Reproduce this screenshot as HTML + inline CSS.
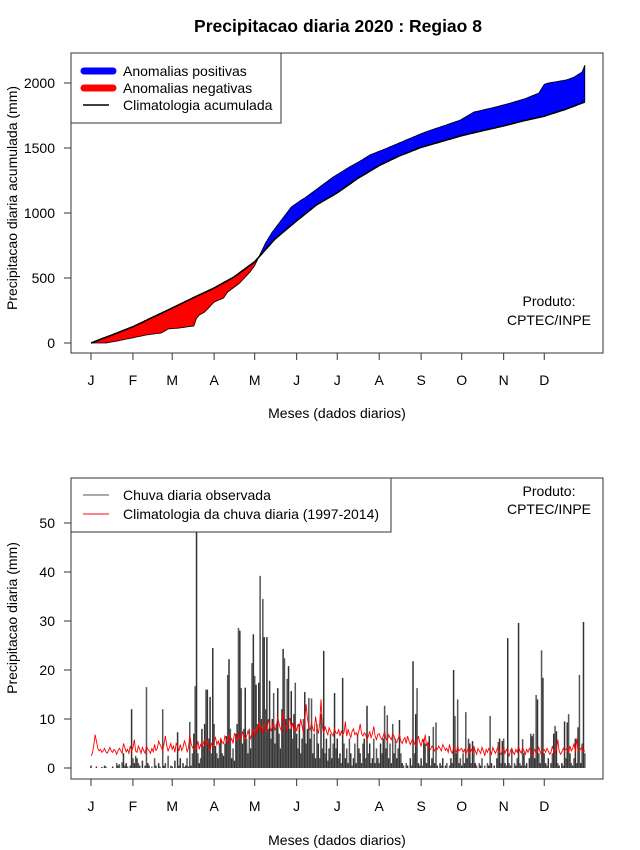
<!DOCTYPE html>
<html><head><meta charset="utf-8"><style>
html,body{margin:0;padding:0;background:#fff;}
svg{display:block;font-family:"Liberation Sans",Arial,sans-serif;}
</style></head><body>
<svg id="chart" width="640" height="850" viewBox="0 0 640 850">
<text x="338" y="32" text-anchor="middle" font-size="17.5" font-weight="bold">Precipitacao diaria 2020 : Regiao 8</text>
<g id="top"></g>
<g id="bot"></g>
</svg>
<script>
// ---- top panel data (accumulated) ----
const climDays = [1,16,32,46,61,76,92,107,122,137,153,168,183,198,214,229,245,260,275,290,306,321,336,351,366];
const climAcc  = [0,60,125,195,269,345,423,510,625,800,940,1065,1155,1265,1365,1440,1505,1550,1595,1632,1670,1710,1745,1795,1854];
const obsDays  = [1,12,20,31,42,53,58,66,77,79,81,85,92,99,102,111,118,122,125,130,135,142,149,155,160,170,180,192,200,207,220,234,248,260,274,284,298,311,322,332,336,339,352,358,364,366];
const obsAcc   = [0,0,15,38,62,77,108,115,131,190,215,238,315,346,392,462,540,595,662,769,854,950,1046,1090,1123,1200,1277,1354,1400,1446,1500,1562,1623,1665,1715,1777,1810,1846,1880,1923,1990,2000,2023,2045,2085,2138];
const topTicks = [0,500,1000,1500,2000];
const monthLabels = ["J","F","M","A","M","J","J","A","S","O","N","D"];
const monthStart = [1,32,61,92,122,153,183,214,245,275,306,336];
// ---- bottom panel data (daily) ----
const obsRain = [
0.5,0,0,0,0.3,0,0,0,0.2,0,0.5,0.3,0,0,0,0,0.3,0,0,1,0.5,0.8,0,1.2,3,0.5,1,0.3,0,0.5,12,
2,1,2.5,2,1,0.5,0,1.5,0,0.5,16.5,1,0.5,0,0.3,0,2,0.5,0,1,0.3,0,12,0.5,1,0,2.5,0,0.5,
0.3,0,1.5,0,7.3,0.5,2,0,1,0.2,0.5,2,0.3,9.4,0.5,3,7,16.7,58,3,1,2,8,4.5,9,16,16,6,14.5,3,24.5,
9,4.5,3,2,5,6,3,2.5,5,6.5,19,22.2,8,2,4,1.5,7,9,28.6,28,16.3,5,8,16.4,6,3,8,4,21.4,27.3,
18.8,17,9,17.4,39.2,10,34.5,26.7,12,26.7,8,17.8,6,10,15.3,5,9,16.3,7,4,12,24.3,22.4,10,18.2,20.8,8,15.7,6,11,17.4,
7,4,9,3,6,10,15.5,5,8,14.3,6,14.2,3,7,2,9,5,2,11,4,23.9,3,6,1.5,4,7,2,5,15.3,4,
6,2,3,1,18.4,5,2,4,1,6,3,0.5,2,5,1,7,4,3,1,5,6,2,12.7,3,5,1,2,6,1,4,2,
1,5,3,6,12.7,4,10.8,2,5,1,9,3,6,2,4,9.8,3,1,0.5,0,1,0.5,0,2,0.5,21.8,3,11,16.3,1,0.5,
2,0.5,5.9,5,1,5,6.5,0.5,2,8.4,1,9.3,0.5,0,1,0.5,2,0,0.5,1,0,0.5,2,1,20,10.6,3,14,1,2,
0.5,3,1,11.4,2,6,5,1,5.5,4,1,0.5,0,1,0.5,2,0,0.5,0,1,0.5,10.6,1,0,0.5,0,2,5.3,6,1,5.5,
6,1,0.5,26.5,1,0.5,4,0,1,0.5,2,29.6,1,0.5,5.9,3,0.5,1,0,2,7,6.5,7,2,14.9,14,3,1,24,18.4,
3,1,0.5,2,0,1,3,7,8.6,7.5,1,0.5,0,1,0.5,9.5,2,9.3,11,3,1,0.5,2,6,1,8.3,19,1,5,29.8,3];
const climRain = [
2.5,3,4.5,6.8,5.5,4,3.5,3.8,3.2,3.5,4,3.3,3,3.6,4.2,3.5,3.2,3.8,3.5,2.8,3.6,4,3.5,3,5,4.2,3.3,3.8,3,4.5,3.5,
4,5.8,3.5,3.2,4.5,3.8,3,4.2,3.5,3,4.6,3.8,3.5,3,4,3.3,4.8,3.6,4,5.5,4.8,4.2,3.5,5,6.5,4.5,3.5,4.2,5,
3.8,4.5,3.2,5,4.5,3.5,4.8,3.6,4.2,5.5,4.8,3.3,4,6.8,5,4.2,3.8,4.5,4,5.5,3.8,4.8,4.2,5,6,4.5,5.5,4.2,3.5,5,4.5,
5.5,6.2,4.8,5.5,4.5,6,5.2,5,6.5,5.8,4.8,6.8,5.5,6,5,7,6.5,5.5,7.2,6,5.8,7.5,6.5,5.8,6.5,7.5,6.8,6,7.2,7.8,
6.5,8.2,7,9.5,7.8,8.5,7,9,8.2,7.5,10,8.8,7.5,8.5,9.2,7.8,8.5,10.5,9,8,7.5,11.5,9,8.5,7.5,9.5,10.2,8,9.2,7.5,8.8,
7.5,9,8,10,8.5,7.2,9.5,13,10,8.5,7.8,9.2,8,7.5,10.5,8.2,7,9,14,8.5,7,8.5,7.5,6.8,8.2,7.5,7,6.5,8,7.2,
7,7.8,6.5,7.5,6.8,7.2,9.5,6.5,7.8,7,6.2,7.5,8,6.8,7.2,6.5,7.5,9,7,6.5,7.2,6.8,5.8,6.5,7.5,6.2,7,8.5,6.5,5.8,6.8,
7,6.2,5.8,6.5,7.5,6,5.5,6.8,6.2,5.8,7,6.5,5.5,5.2,6,6.8,5.5,5,5.8,6.2,5,6.5,5.5,4.8,5.5,6,5,4.5,5.5,6.5,5.2,
4.5,5.8,5,6.8,4.5,5.2,4,3.8,4.5,4,3.5,4.2,3.8,4.5,4,3.5,4.8,4.2,3.6,4,3.2,4.8,3.5,3,4.2,3.8,3.2,4.5,3.5,3.8,
4,3.2,3.8,2.8,3.5,4.2,3,3.8,3.2,4.5,3.5,2.8,4,3.5,3,4.2,3.5,2.5,3.8,3.2,4,3.5,2.8,4.2,3.5,3,3.8,4.5,3.2,2.8,3.5,
4.2,3,3.8,3.2,2.5,3.5,4,3.2,2.8,3.8,3.2,4.5,3.5,3,4.2,3.5,2.8,3.8,3.2,4,3.5,2.5,3.2,3.8,3,3.5,4.2,3.2,2.8,3.5,
3.8,3.2,4,3.5,2.8,3.2,4.5,3.5,3,3.8,5.8,3.5,2.8,3.2,4,3.5,3.8,4.2,3,4.5,3.5,4,5,3.2,6,3.5,4,3.8,4.5,3.2,3.6];
const botTicks = [0,10,20,30,40,50];

const NS = "http://www.w3.org/2000/svg";
function mk(tag, attrs, parent, text){
  const e = document.createElementNS(NS, tag);
  for (const k in attrs) e.setAttribute(k, attrs[k]);
  if (text !== undefined) e.textContent = text;
  parent.appendChild(e); return e;
}
const xDay = d => 91 + (d - 1) * 1.353;
const yTop = v => 343 - v * 0.13;
const yBot = v => 768 - v * 4.9;
function interp(xs, ys, x){
  for (let i = 1; i < xs.length; i++) if (x <= xs[i]) {
    const t = (x - xs[i-1]) / (xs[i] - xs[i-1]); return ys[i-1] + t * (ys[i] - ys[i-1]);
  }
  return ys[ys.length-1];
}
function axes(g, boxTop, boxBot, ticks, yf, ytitle, ytitleY, xtitleY){
  const box = mk('rect', {x:71, y:boxTop, width:532, height:boxBot-boxTop, fill:'none', stroke:'#333', 'stroke-width':1}, g);
  
  
  ticks.forEach(t => {
    const y = yf(t);
    const l = mk('line', {x1:64, x2:71, y1:y, y2:y, stroke:'#333'}, g);
    
    
    const tx = mk('text', {x:55, y:y+5, 'text-anchor':'end', 'font-size':14}, g, String(t));
    
    
  });
  monthStart.forEach((d, i) => {
    const x = xDay(d);
    const l = mk('line', {x1:x, x2:x, y1:boxBot, y2:boxBot+7, stroke:'#333'}, g);
    
    
    const tx = mk('text', {x:x, y:boxBot+32, 'text-anchor':'middle', 'font-size':14}, g, monthLabels[i]);
    
    
  });
  const yt = mk('text', {x:17, y:ytitleY, 'text-anchor':'middle', 'font-size':14, transform:`rotate(-90 17 ${ytitleY})`}, g, ytitle);
  
  
  const xt = mk('text', {x:337, y:xtitleY, 'text-anchor':'middle', 'font-size':14}, g, 'Meses (dados diarios)');
  
  
}
// ---- top panel ----
const gt = document.getElementById('top');
const days = []; for (let d = 1; d <= 366; d++) days.push(d);
const cl = days.map(d => interp(climDays, climAcc, d));
const ob = days.map(d => interp(obsDays, obsAcc, d));
const cross = 125;
function poly(from, to, color, name){
  let pts = [];
  for (let d = from; d <= to; d++) pts.push(xDay(d).toFixed(1) + ',' + yTop(ob[d-1]).toFixed(1));
  for (let d = to; d >= from; d--) pts.push(xDay(d).toFixed(1) + ',' + yTop(cl[d-1]).toFixed(1));
  const p = mk('polygon', {points:pts.join(' '), fill:color, stroke:'#000', 'stroke-width':0.8}, gt);
  
  
}
poly(1, cross, '#ff0000', 'negative-anomaly-area');
poly(cross, 366, '#0000ff', 'positive-anomaly-area');
const climLine = mk('polyline', {points:days.map(d => xDay(d).toFixed(1)+','+yTop(cl[d-1]).toFixed(1)).join(' '), fill:'none', stroke:'#000', 'stroke-width':1.6}, gt);


axes(gt, 53, 353, topTicks, yTop, 'Precipitacao diaria acumulada (mm)', 198, 418);
// top legend
const lg = mk('g', {}, gt);


mk('rect', {x:71, y:53, width:210, height:70, fill:'#fff', stroke:'#333'}, lg);
[['#0000ff', 7, 'Anomalias positivas', 71], ['#ff0000', 7, 'Anomalias negativas', 88], ['#000', 1.5, 'Climatologia acumulada', 105]].forEach(e => {
  const s = mk('line', {x1:e[1] > 2 ? 84 : 83, x2:e[1] > 2 ? 113 : 109, y1:e[3], y2:e[3], stroke:e[0], 'stroke-width':e[1], 'stroke-linecap':e[1] > 2 ? 'round' : 'butt'}, lg);
  
  
  const t = mk('text', {x:123, y:e[3]+5, 'font-size':14}, lg, e[2]);
  
  
});
const p1 = mk('text', {x:549, y:306, 'text-anchor':'middle', 'font-size':14}, gt, 'Produto:');


const p2 = mk('text', {x:549, y:325, 'text-anchor':'middle', 'font-size':14}, gt, 'CPTEC/INPE');


// ---- bottom panel ----
const gb = document.getElementById('bot');
const cp = mk('clipPath', {id:'bclip'}, gb);
mk('rect', {x:71, y:478, width:532, height:301}, cp);
const bars = mk('g', {'clip-path':'url(#bclip)'}, gb);


obsRain.forEach((v, i) => {
  const x = xDay(i+1);
  const b = mk('line', {x1:x, x2:x, y1:yBot(0), y2:yBot(v), stroke: i % 2 ? '#555' : '#333', 'stroke-width':1.5}, bars);
  
  
});
const rl = mk('polyline', {points:climRain.map((v, i) => xDay(i+1).toFixed(1)+','+yBot(v).toFixed(1)).join(' '), fill:'none', stroke:'#ff0000', 'stroke-width':0.9}, gb);


axes(gb, 478, 779, botTicks, yBot, 'Precipitacao diaria (mm)', 618, 845);
const lg2 = mk('g', {}, gb);


mk('rect', {x:71, y:478, width:320, height:54, fill:'#fff', stroke:'#333'}, lg2);
[['#555', 'Chuva diaria observada', 495], ['#ff0000', 'Climatologia da chuva diaria (1997-2014)', 514]].forEach(e => {
  const s = mk('line', {x1:83, x2:109, y1:e[2], y2:e[2], stroke:e[0], 'stroke-width':1}, lg2);
  
  
  const t = mk('text', {x:123, y:e[2]+5, 'font-size':14}, lg2, e[1]);
  
  
});
const p3 = mk('text', {x:549, y:496, 'text-anchor':'middle', 'font-size':14}, gb, 'Produto:');


const p4 = mk('text', {x:549, y:514, 'text-anchor':'middle', 'font-size':14}, gb, 'CPTEC/INPE');


</script>
</body></html>
